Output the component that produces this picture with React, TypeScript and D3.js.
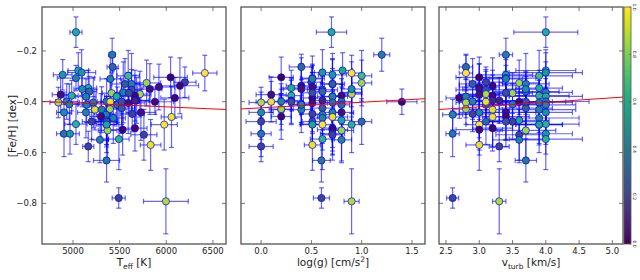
import React from 'react';
import * as d3 from 'd3';

// star parameters (one entry per star, shared by the three panels)
const feh = [-0.126, -0.215, -0.263, -0.277, -0.285, -0.287, -0.294, -0.298, -0.304, -0.307, -0.323, -0.326, -0.33, -0.33, -0.337, -0.342, -0.346, -0.35, -0.353, -0.36, -0.363, -0.366, -0.37, -0.372, -0.376, -0.376, -0.379, -0.385, -0.38, -0.395, -0.4, -0.403, -0.399, -0.41, -0.403, -0.399, -0.405, -0.431, -0.412, -0.425, -0.429, -0.431, -0.442, -0.442, -0.442, -0.448, -0.451, -0.458, -0.46, -0.464, -0.473, -0.478, -0.478, -0.488, -0.49, -0.49, -0.504, -0.51, -0.513, -0.526, -0.526, -0.53, -0.547, -0.55, -0.57, -0.576, -0.631, -0.779, -0.792, -0.365, -0.4, -0.412, -0.478, -0.49, -0.395, -0.4, -0.31, -0.35];
const fehErr = [0.06, 0.065, 0.05, 0.07, 0.09, 0.07, 0.06, 0.1, 0.08, 0.05, 0.06, 0.09, 0.12, 0.1, 0.11, 0.09, 0.07, 0.1, 0.08, 0.06, 0.12, 0.08, 0.09, 0.07, 0.1, 0.06, 0.11, 0.08, 0.07, 0.09, 0.05, 0.06, 0.07, 0.08, 0.1, 0.09, 0.12, 0.08, 0.07, 0.1, 0.06, 0.09, 0.08, 0.1, 0.11, 0.07, 0.06, 0.09, 0.12, 0.1, 0.08, 0.07, 0.09, 0.08, 0.1, 0.11, 0.09, 0.1, 0.12, 0.09, 0.08, 0.1, 0.12, 0.09, 0.1, 0.06, 0.085, 0.04, 0.128, 0.08, 0.09, 0.07, 0.1, 0.08, 0.1, 0.08, 0.09, 0.07];
const colorVal = [0.62, 0.42, 0.35, 0.6, 0.55, 1.0, 0.55, 0.7, 0.0, 0.45, 0.2, 0.85, 0.45, 0.3, 0.02, 0.05, 0.62, 0.05, 0.25, 0.35, 0.45, 0.85, 0.88, 0.05, 0.02, 0.65, 0.62, 0.02, 0.45, 0.1, 0.02, 0.88, 0.45, 0.45, 0.4, 0.4, 0.05, 0.95, 0.35, 0.3, 0.85, 0.45, 0.5, 0.45, 0.05, 0.2, 0.45, 0.02, 0.97, 0.45, 0.6, 0.2, 0.35, 0.65, 1.0, 0.65, 0.02, 0.02, 0.85, 0.4, 0.55, 0.2, 0.65, 0.45, 0.97, 0.2, 0.4, 0.2, 0.88, 0.25, 0.25, 0.45, 0.25, 0.6, 0.1, 0.97, 0.45, 0.5];
const teff = [5032, 5420, 5425, 5057, 5093, 6413, 4890, 5592, 6046, 5032, 6199, 5789, 5628, 5557, 6146, 5921, 5164, 5824, 5628, 5174, 5539, 5414, 5717, 4868, 5664, 4986, 5468, 6092, 5139, 5682, 5878, 4843, 4933, 4961, 5218, 5360, 5592, 5235, 5475, 5521, 5396, 5307, 4904, 5139, 5728, 5635, 5353, 5300, 6056, 5432, 5360, 5200, 5360, 5032, 5978, 5360, 5664, 5532, 5371, 4904, 4968, 5760, 5492, 5289, 5832, 5164, 5360, 5490, 5996, 5600, 5521, 5146, 5360, 5360, 5664, 5400, 5400, 5100];
const teffErr = [65, 35, 60, 110, 150, 130, 100, 120, 180, 200, 120, 150, 90, 140, 200, 170, 90, 130, 110, 80, 150, 100, 120, 90, 160, 70, 130, 150, 110, 140, 200, 90, 120, 100, 150, 100, 180, 90, 120, 140, 110, 100, 80, 90, 160, 130, 100, 120, 110, 130, 90, 100, 120, 120, 140, 110, 130, 150, 100, 80, 100, 140, 110, 90, 110, 60, 140, 70, 240, 100, 120, 100, 110, 90, 150, 100, 110, 90];
const logg = [0.7, 1.2, 0.4, 0.81, 0.61, 0.9, 0.71, 1.0, 0.2, 0.51, 0.5, 1.0, 0.71, 0.71, 0.4, 0.51, 0.3, 0.4, 0.61, 0.61, 0.9, 0.9, 0.9, 0.1, 0.8, 0.3, 0.71, 0.51, 0.71, 0.3, 1.4, 0.0, 0.2, 0.4, 0.71, 0.8, 0.51, 0.2, 0.8, 0.61, 0.2, 0.4, 0.0, 0.71, 0.8, 0.51, 0.61, 0.2, 0.71, 0.61, 0.8, 0.0, 1.0, 0.51, 0.61, 0.9, 0.71, 0.71, 0.8, 0.0, 0.71, 0.71, 0.61, 0.8, 0.51, 0.0, 0.6, 0.6, 0.9, 0.51, 0.3, 0.4, 0.51, 0.51, 0.61, 0.1, 0.51, 0.9];
const loggErr = [0.15, 0.08, 0.12, 0.1, 0.08, 0.1, 0.14, 0.1, 0.12, 0.12, 0.1, 0.1, 0.12, 0.1, 0.15, 0.12, 0.1, 0.18, 0.15, 0.12, 0.1, 0.1, 0.1, 0.15, 0.1, 0.12, 0.15, 0.12, 0.1, 0.12, 0.15, 0.12, 0.1, 0.12, 0.12, 0.1, 0.15, 0.1, 0.08, 0.12, 0.12, 0.1, 0.12, 0.1, 0.12, 0.12, 0.1, 0.1, 0.15, 0.12, 0.1, 0.15, 0.1, 0.12, 0.1, 0.1, 0.1, 0.15, 0.12, 0.1, 0.12, 0.1, 0.12, 0.1, 0.08, 0.12, 0.087, 0.08, 0.075, 0.1, 0.12, 0.1, 0.1, 0.12, 0.12, 0.15, 0.1, 0.1];
const vturb = [4.0, 3.4, 2.8, 4.0, 4.0, 2.8, 3.4, 3.9, 3.0, 3.4, 3.1, 3.6, 3.7, 2.9, 3.2, 3.0, 3.9, 3.0, 3.1, 3.7, 4.0, 3.5, 3.1, 3.0, 3.2, 3.9, 4.0, 2.7, 2.8, 3.3, 3.6, 2.8, 2.9, 3.5, 3.9, 4.0, 3.7, 3.2, 3.1, 3.7, 2.8, 3.9, 4.0, 3.0, 3.4, 2.9, 2.6, 3.4, 3.2, 3.9, 3.6, 3.5, 3.1, 4.0, 3.0, 3.9, 3.2, 3.0, 3.7, 2.6, 4.0, 3.6, 4.0, 3.6, 3.0, 3.3, 3.7, 2.6, 3.3, 3.4, 3.7, 4.0, 3.4, 3.9, 3.2, 3.1, 3.4, 3.7];
const vturbErr = [0.48, 0.1, 0.1, 0.45, 0.55, 0.1, 0.4, 0.5, 0.35, 0.45, 0.25, 0.3, 0.35, 0.2, 0.4, 0.3, 0.35, 0.25, 0.45, 0.5, 0.4, 0.3, 0.4, 0.3, 0.5, 0.45, 0.55, 0.2, 0.15, 0.4, 0.7, 0.15, 0.2, 0.45, 0.5, 0.65, 0.35, 0.25, 0.3, 0.4, 0.2, 0.55, 0.4, 0.3, 0.45, 0.25, 0.15, 0.35, 0.3, 0.6, 0.45, 0.4, 0.2, 0.5, 0.2, 0.35, 0.3, 0.35, 0.45, 0.1, 0.4, 0.35, 0.55, 0.4, 0.2, 0.15, 0.16, 0.09, 0.1, 0.35, 0.4, 0.45, 0.3, 0.35, 0.45, 0.3, 0.25, 0.3];

// axes
const fehDomain = [-0.96, -0.027];
const fehTicks = [-0.8, -0.6, -0.4, -0.2];
const teffDomain = [4668, 6640];
const teffTicks = [5000, 5500, 6000, 6500];
const loggDomain = [-0.2, 1.63];
const loggTicks = [0.0, 0.5, 1.0, 1.5];
const vturbDomain = [2.395, 5.16];
const vturbTicks = [2.5, 3.0, 3.5, 4.0, 4.5, 5.0];
const cbarTicks = [0.0, 0.2, 0.4, 0.6, 0.8, 1.0];

// linear fits [Fe/H] = a + b*x
const fitIntercept = [-0.323, -0.424, -0.473];
const fitSlope = [-1.62e-5, 0.022, 0.0177];

const TOP = 7;
const BOTTOM = 244;
const PW = 184;
const FONT = 'DejaVu Sans, sans-serif';
const SPINE = '#555';
const ERR = '#0000ff';

const panels = [
  { id: 'teff', left: 42, x: teff, xErr: teffErr, domain: teffDomain, ticks: teffTicks, fmt: d3.format('d') },
  { id: 'logg', left: 241, x: logg, xErr: loggErr, domain: loggDomain, ticks: loggTicks, fmt: d3.format('.1f') },
  { id: 'vturb', left: 439, x: vturb, xErr: vturbErr, domain: vturbDomain, ticks: vturbTicks, fmt: d3.format('.1f') },
];

const y = d3.scaleLinear().domain(fehDomain).range([BOTTOM, TOP]);
const yFmt = d3.format('.1f');

function XLabel({ id, cx }: { id: string; cx: number }) {
  const common = { x: cx, y: 266, textAnchor: 'middle' as const, fontSize: 10.5, fill: '#222', fontFamily: FONT };
  if (id === 'teff')
    return (
      <text {...common}>
        T<tspan dy={2.5} fontSize={7.5}>eff</tspan>
        <tspan dy={-2.5}> [K]</tspan>
      </text>
    );
  if (id === 'logg')
    return (
      <text {...common}>
        log(g) [cm/s<tspan dy={-4} fontSize={7.5}>2</tspan>
        <tspan dy={4}>]</tspan>
      </text>
    );
  return (
    <text {...common}>
      v<tspan dy={2.5} fontSize={7.5}>turb</tspan>
      <tspan dy={-2.5}> [km/s]</tspan>
    </text>
  );
}

function Panel({ p, idx }: { p: (typeof panels)[number]; idx: number }) {
  const x = d3.scaleLinear().domain(p.domain).range([p.left, p.left + PW]);
  const clip = `clip-${p.id}`;
  const cap = 2.5;
  const fit = (v: number) => fitIntercept[idx] + fitSlope[idx] * v;
  return (
    <g>
      <defs>
        <clipPath id={clip}>
          <rect x={p.left} y={TOP} width={PW} height={BOTTOM - TOP} />
        </clipPath>
      </defs>
      <g clipPath={`url(#${clip})`}>
        <g stroke={ERR} strokeOpacity={0.6} strokeWidth={1.2} fill="none">
          {feh.map((f, i) => {
            const cx = x(p.x[i]);
            const cy = y(f);
            const x0 = x(p.x[i] - p.xErr[i]);
            const x1 = x(p.x[i] + p.xErr[i]);
            const y0 = y(f - fehErr[i]);
            const y1 = y(f + fehErr[i]);
            return (
              <g key={i}>
                <line x1={x0} x2={x1} y1={cy} y2={cy} />
                <line x1={cx} x2={cx} y1={y0} y2={y1} />
                <line x1={x0} x2={x0} y1={cy - cap} y2={cy + cap} />
                <line x1={x1} x2={x1} y1={cy - cap} y2={cy + cap} />
                <line x1={cx - cap} x2={cx + cap} y1={y0} y2={y0} />
                <line x1={cx - cap} x2={cx + cap} y1={y1} y2={y1} />
              </g>
            );
          })}
        </g>
        {feh.map((f, i) => (
          <circle key={i} cx={x(p.x[i])} cy={y(f)} r={3.6} fill={d3.interpolateViridis(colorVal[i])} stroke={ERR} strokeWidth={0.7} />
        ))}
        <line x1={x(p.domain[0])} x2={x(p.domain[1])} y1={y(fit(p.domain[0]))} y2={y(fit(p.domain[1]))} stroke="#ff0000" strokeWidth={1} />
      </g>
      {/* ticks, inside on all four sides */}
      <g stroke={SPINE} strokeWidth={0.8}>
        {p.ticks.map((t) => (
          <g key={t}>
            <line x1={x(t)} x2={x(t)} y1={BOTTOM} y2={BOTTOM - 4} />
            <line x1={x(t)} x2={x(t)} y1={TOP} y2={TOP + 4} />
          </g>
        ))}
        {fehTicks.map((t) => (
          <g key={t}>
            <line x1={p.left} x2={p.left + 4} y1={y(t)} y2={y(t)} />
            <line x1={p.left + PW} x2={p.left + PW - 4} y1={y(t)} y2={y(t)} />
          </g>
        ))}
      </g>
      <rect x={p.left} y={TOP} width={PW} height={BOTTOM - TOP} fill="none" stroke={SPINE} strokeWidth={1.3} />
      {p.ticks.map((t) => (
        <text key={t} x={x(t)} y={253.5} textAnchor="middle" fontSize={8.5} fill="#222" fontFamily={FONT}>
          {p.fmt(t)}
        </text>
      ))}
      {idx === 0 &&
        fehTicks.map((t) => (
          <text key={t} x={37} y={y(t)} textAnchor="end" dominantBaseline="central" fontSize={8.5} fill="#222" fontFamily={FONT}>
            {yFmt(t)}
          </text>
        ))}
      <XLabel id={p.id} cx={p.left + PW / 2} />
    </g>
  );
}

function Colorbar() {
  const cb = d3.scaleLinear().domain([0, 1]).range([BOTTOM, TOP]);
  const stops = d3.range(0, 1.0001, 0.05);
  return (
    <g>
      <defs>
        <linearGradient id="viridis" x1="0" y1="1" x2="0" y2="0">
          {stops.map((s) => (
            <stop key={s} offset={s} stopColor={d3.interpolateViridis(s)} />
          ))}
        </linearGradient>
      </defs>
      <rect x={624} y={TOP} width={7} height={BOTTOM - TOP} fill="url(#viridis)" stroke={SPINE} strokeWidth={0.8} />
      {cbarTicks.map((t) => (
        <g key={t}>
          <line x1={631} x2={629} y1={cb(t)} y2={cb(t)} stroke={SPINE} strokeWidth={0.6} />
          <text
            transform={`translate(634,${cb(t)}) rotate(90)`}
            textAnchor="middle"
            dominantBaseline="central"
            fontSize={4.5}
            fill="#222"
            fontFamily={FONT}
          >
            {d3.format('.1f')(t)}
          </text>
        </g>
      ))}
    </g>
  );
}

export default function App() {
  return (
    <svg width={640} height={280} style={{ position: 'absolute', left: 0, top: 0, background: '#fff' }}>
      {panels.map((p, i) => (
        <Panel key={p.id} p={p} idx={i} />
      ))}
      <Colorbar />
      <text
        transform="translate(12,126) rotate(-90)"
        textAnchor="middle"
        dominantBaseline="central"
        fontSize={10.5}
        fill="#222"
        fontFamily={FONT}
      >
        [Fe/H] [dex]
      </text>
    </svg>
  );
}
